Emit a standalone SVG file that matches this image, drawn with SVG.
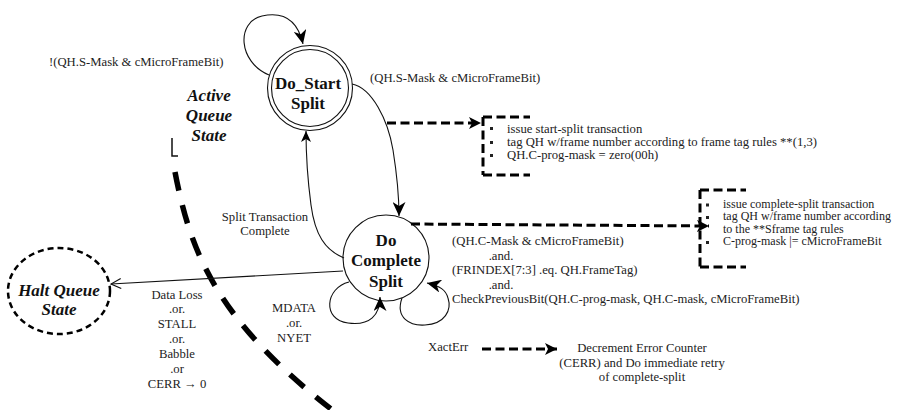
<svg xmlns="http://www.w3.org/2000/svg" width="904" height="410" viewBox="0 0 904 410">
<style>
  .lbl { font-family: "Liberation Serif", "Times New Roman", serif; font-size: 12.7px; fill: #222; }
  .sm { font-size: 12px; }
  .mid { text-anchor: middle; }
  .node { font-family: "Liberation Serif", "Times New Roman", serif; font-size: 17px; font-weight: bold; fill: #111; text-anchor: middle; }
  .nodei { font-family: "Liberation Serif", "Times New Roman", serif; font-size: 17px; font-weight: bold; font-style: italic; fill: #111; text-anchor: middle; }
  .thin { fill: none; stroke: #111; stroke-width: 1.1; }
  .heavy { fill: none; stroke: #000; stroke-width: 3; stroke-dasharray: 9 4.5; }
  .bracket { fill: none; stroke: #000; stroke-width: 3; stroke-dasharray: 9 4.5; }
  .bullet { fill: #222; }
</style>
<defs>
  <marker id="ah" markerUnits="userSpaceOnUse" markerWidth="14" markerHeight="13" viewBox="0 0 14 13" refX="14" refY="6.5" orient="auto">
    <path d="M0,0 L14,6.5 L0,13 L4,6.5 Z" fill="#000"/>
  </marker>
  <marker id="ahs" markerUnits="userSpaceOnUse" markerWidth="11" markerHeight="10" viewBox="0 0 11 10" refX="11" refY="5" orient="auto">
    <path d="M0,0 L11,5 L0,10 L3,5 Z" fill="#000"/>
  </marker>
  <marker id="ahd" markerUnits="userSpaceOnUse" markerWidth="12" markerHeight="12" viewBox="0 0 12 12" refX="12" refY="6" orient="auto">
    <path d="M0,0 L12,6 L0,12 L3,6 Z" fill="#000"/>
  </marker>
  <marker id="open" markerUnits="userSpaceOnUse" markerWidth="12" markerHeight="12" viewBox="0 0 12 12" refX="11" refY="6" orient="auto">
    <path d="M1,1 L11,6 L1,11" fill="none" stroke="#111" stroke-width="1.2"/>
  </marker>
</defs>

<!-- Active queue boundary -->
<g id="boundary">
  <path d="M172,138 V156 H178" fill="none" stroke="#111" stroke-width="1.5"/>
  <path d="M175,172 C190,250 215,320 335,412" fill="none" stroke="#000" stroke-width="5.5" stroke-dasharray="19 15"/>
  <text class="nodei" x="209" y="101">Active</text>
  <text class="nodei" x="209" y="121">Queue</text>
  <text class="nodei" x="209" y="141">State</text>
</g>

<!-- Nodes -->
<g id="do-start-split">
  <circle cx="310" cy="88" r="42.5" fill="#fff" stroke="#111" stroke-width="1.1"/>
  <circle cx="310" cy="88" r="38.5" fill="none" stroke="#111" stroke-width="1.1"/>
  <text class="node" x="308" y="89">Do_Start</text>
  <text class="node" x="308" y="109">Split</text>
</g>

<g id="do-complete-split">
  <circle cx="386" cy="258" r="43" fill="#fff" stroke="#111" stroke-width="1.1"/>
  <text class="node" x="386" y="246">Do</text>
  <text class="node" x="386" y="266">Complete</text>
  <text class="node" x="386" y="287">Split</text>
</g>

<g id="halt-queue-state">
  <ellipse cx="59" cy="291" rx="51" ry="43" fill="#fff" stroke="#000" stroke-width="2.5" stroke-dasharray="6 4"/>
  <text class="nodei" x="59" y="296">Halt Queue</text>
  <text class="nodei" x="59" y="315">State</text>
</g>

<g id="box-start">
  <path class="bracket" d="M483,117 H530 M483,117 V175 M483,175 H530"/>
  <rect class="bullet" x="490" y="127" width="3" height="3"/>
  <rect class="bullet" x="490" y="141" width="3" height="3"/>
  <rect class="bullet" x="490" y="154" width="3" height="3"/>
  <text class="lbl" x="507" y="133">issue start-split transaction</text>
  <text class="lbl" x="507" y="146">tag QH w/frame number according to frame tag rules **(1,3)</text>
  <text class="lbl" x="507" y="159">QH.C-prog-mask = zero(00h)</text>
</g>

<g id="box-complete">
  <path class="bracket" d="M700,190 H746 M700,190 V267 M700,267 H746"/>
  <rect class="bullet" x="706" y="203.5" width="3" height="3"/>
  <rect class="bullet" x="706" y="216" width="3" height="3"/>
  <rect class="bullet" x="706" y="241" width="3" height="3"/>
  <text class="lbl sm" x="723" y="207.5">issue complete-split transaction</text>
  <text class="lbl sm" x="723" y="220">tag QH w/frame number according</text>
  <text class="lbl sm" x="723" y="232.5">to the **Sframe tag rules</text>
  <text class="lbl sm" x="723" y="245">C-prog-mask |= cMicroFrameBit</text>
</g>

<g id="xacterr-note">
  <text class="lbl" x="428" y="351">XactErr</text>
  <text class="lbl mid" x="642" y="351.5">Decrement Error Counter</text>
  <text class="lbl mid" x="642" y="366.5">(CERR) and Do immediate retry</text>
  <text class="lbl mid" x="642" y="381">of complete-split</text>
</g>

<!-- Connectors -->
<g id="connectors">
  <!-- self loop on Do_Start -->
  <path class="thin" d="M269,75 C238,62 236,22 262,16 C285,11 298,22 303,44" marker-end="url(#ah)"/>
  <text class="lbl" x="49" y="66">!(QH.S-Mask &amp; cMicroFrameBit)</text>

  <!-- Do_Start -> Do Complete -->
  <path class="thin" d="M352,84 C372,88 388,120 393,150 C397,175 399,195 399,216" marker-end="url(#ah)"/>
  <text class="lbl" x="370" y="82">(QH.S-Mask &amp; cMicroFrameBit)</text>

  <!-- Do Complete -> Do_Start -->
  <path class="thin" d="M344,258 C325,250 315,235 311,205 C307,175 306,150 306,131" marker-end="url(#ahs)"/>
  <text class="lbl mid" x="265" y="221">Split Transaction</text>
  <text class="lbl mid" x="265" y="235">Complete</text>

  <!-- Do Complete -> Halt -->
  <path class="thin" d="M343,271 L111,284" marker-end="url(#open)"/>
  <text class="lbl mid" x="177" y="299">Data Loss</text>
  <text class="lbl mid" x="177" y="313">.or.</text>
  <text class="lbl mid" x="177" y="328">STALL</text>
  <text class="lbl mid" x="177" y="343">.or.</text>
  <text class="lbl mid" x="177" y="358">Babble</text>
  <text class="lbl mid" x="177" y="373">.or</text>
  <text class="lbl mid" x="177" y="388">CERR → 0</text>

  <!-- left bottom self loop -->
  <path class="thin" d="M349,282 C325,288 322,320 348,323 C370,326 380,315 380,297" marker-end="url(#ah)"/>
  <text class="lbl mid" x="294" y="311.5">MDATA</text>
  <text class="lbl mid" x="294" y="326.5">.or.</text>
  <text class="lbl mid" x="294" y="341.5">NYET</text>

  <!-- right bottom self loop -->
  <path class="thin" d="M402,298 C395,318 410,326 425,325 C445,324 452,310 448,298 C446,290 440,286 427,283" marker-end="url(#ah)"/>
  <text class="lbl" x="452" y="245">(QH.C-Mask &amp; cMicroFrameBit)</text>
  <text class="lbl mid" x="501" y="259.5">.and.</text>
  <text class="lbl" x="452" y="274">(FRINDEX[7:3] .eq. QH.FrameTag)</text>
  <text class="lbl mid" x="501" y="288.5">.and.</text>
  <text class="lbl" x="452" y="303">CheckPreviousBit(QH.C-prog-mask, QH.C-mask, cMicroFrameBit)</text>

  <!-- dashed action arrows -->
  <path class="heavy" d="M387,123 L481,123" marker-end="url(#ahd)"/>
  <path class="heavy" d="M411,224 L709,226" marker-end="url(#ahd)"/>
  <path class="heavy" d="M482,349 L557,349" marker-end="url(#ahd)"/>
</g>
</svg>
